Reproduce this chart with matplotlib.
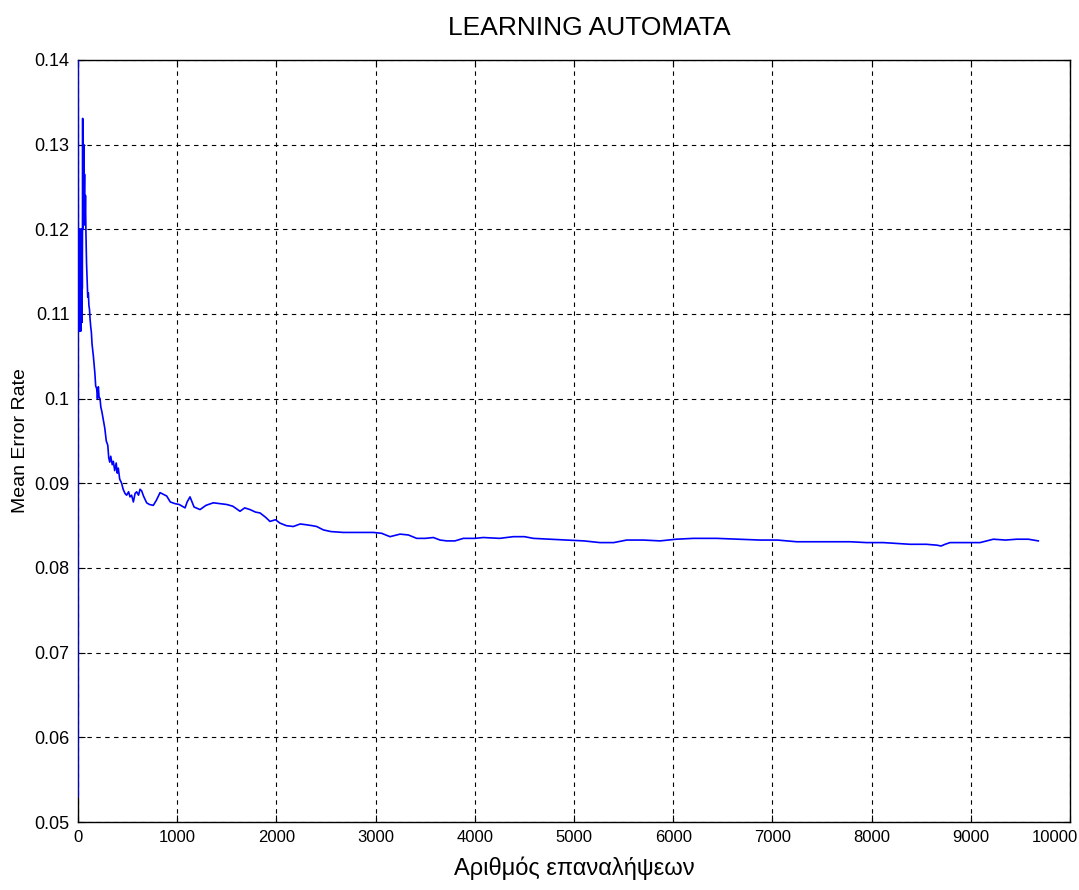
import matplotlib
matplotlib.use("Agg")
import matplotlib.pyplot as plt
import matplotlib.transforms as mtransforms
from matplotlib import font_manager

# ------------------------------------------------------------
# Data
# ------------------------------------------------------------
iterations = [0, 1, 3, 5, 7, 9, 11, 13, 15, 17, 19, 21, 23, 25, 27, 29, 31, 33,
              35, 37, 39, 41, 43, 45, 47, 49, 52, 55, 58, 62, 66, 70, 75, 80, 86,
              92, 98, 104, 110, 116, 121, 128, 135, 141, 148, 155, 162, 170, 178,
              188, 196, 205, 212, 222, 230, 240, 255, 270, 285, 300, 310, 320,
              330, 345, 356, 370, 385, 395, 406, 420, 440, 455, 474, 490, 510,
              524, 540, 558, 575, 591, 610, 625, 642, 660, 692, 720, 759, 790,
              827, 860, 894, 930, 978, 1020, 1079, 1100, 1129, 1170, 1230, 1290,
              1364, 1430, 1499, 1560, 1633, 1680, 1734, 1790, 1835, 1890, 1935,
              1990, 2036, 2100, 2170, 2240, 2305, 2360, 2406, 2473, 2550, 2675,
              2800, 2977, 3060, 3145, 3246, 3330, 3414, 3500, 3582, 3650, 3717,
              3800, 3884, 4000, 4086, 4250, 4388, 4500, 4590, 4750, 4926, 5100,
              5262, 5400, 5531, 5700, 5867, 6030, 6203, 6438, 6650, 6875, 7050,
              7245, 7500, 7782, 7950, 8118, 8387, 8550, 8656, 8700, 8740, 8790,
              8950, 9093, 9227, 9350, 9462, 9580, 9680]

mean_error = [0.053, 0.150, 0.108, 0.120, 0.108, 0.120, 0.109, 0.120, 0.108,
              0.120, 0.110, 0.120, 0.108, 0.119, 0.109, 0.120, 0.108, 0.120,
              0.111, 0.120, 0.109, 0.118, 0.113, 0.120, 0.1331, 0.120, 0.1312,
              0.1225, 0.1300, 0.1235, 0.1265, 0.1205, 0.1240, 0.1195, 0.1160,
              0.1140, 0.1120, 0.1125, 0.1110, 0.1105, 0.1095, 0.1085, 0.1078,
              0.1065, 0.1058, 0.1050, 0.1040, 0.1030, 0.1015, 0.1012, 0.1000,
              0.1014, 0.1002, 0.1000, 0.0990, 0.0985, 0.0975, 0.0965, 0.0950,
              0.0945, 0.0930, 0.0925, 0.0932, 0.0922, 0.0926, 0.0915, 0.0924,
              0.0912, 0.0918, 0.0905, 0.0900, 0.0893, 0.0888, 0.0886, 0.0890,
              0.0884, 0.0886, 0.0878, 0.0888, 0.0890, 0.0886, 0.0893, 0.0891,
              0.0885, 0.0877, 0.0875, 0.0874, 0.0880, 0.0889, 0.0887, 0.0885,
              0.0878, 0.0876, 0.0875, 0.0871, 0.0878, 0.0884, 0.0872, 0.0869,
              0.0874, 0.0877, 0.0876, 0.0875, 0.0873, 0.0867, 0.0871, 0.0869,
              0.0866, 0.0865, 0.0860, 0.0855, 0.0857, 0.0853, 0.0850, 0.0849,
              0.0852, 0.0851, 0.0850, 0.0849, 0.0845, 0.0843, 0.0842, 0.0842,
              0.0842, 0.0841, 0.0837, 0.0840, 0.0839, 0.0835, 0.0835, 0.0836,
              0.0833, 0.0832, 0.0832, 0.0835, 0.0835, 0.0836, 0.0835, 0.0837,
              0.0837, 0.0835, 0.0834, 0.0833, 0.0832, 0.0830, 0.0830, 0.0833,
              0.0833, 0.0832, 0.0834, 0.0835, 0.0835, 0.0834, 0.0833, 0.0833,
              0.0831, 0.0831, 0.0831, 0.0830, 0.0830, 0.0828, 0.0828, 0.0827,
              0.0826, 0.0828, 0.0830, 0.0830, 0.0830, 0.0834, 0.0833, 0.0834,
              0.0834, 0.0832]

x_ticks = [0, 1000, 2000, 3000, 4000, 5000, 6000, 7000, 8000, 9000, 10000]
y_ticks = [0.05, 0.06, 0.07, 0.08, 0.09, 0.1, 0.11, 0.12, 0.13, 0.14]
y_tick_labels = ['0.05', '0.06', '0.07', '0.08', '0.09', '0.1', '0.11',
                 '0.12', '0.13', '0.14']

# narrow font for the squeezed x labels, if present
installed = {f.name for f in font_manager.fontManager.ttflist}
narrow = 'Liberation Sans Narrow' if 'Liberation Sans Narrow' in installed else 'Liberation Sans'

plt.rcParams['font.family'] = ['Liberation Sans', 'DejaVu Sans']

# ------------------------------------------------------------
# Plot
# ------------------------------------------------------------
fig = plt.figure(figsize=(10.79, 8.90), dpi=100)
ax = fig.add_axes([0.0723, 0.0764, 0.9194, 0.8562])

ax.plot(iterations, mean_error, color='#0000ff', linewidth=1.2, zorder=3)

ax.set_xlim(0, 10000)
ax.set_ylim(0.05, 0.14)
ax.set_xticks(x_ticks)
ax.set_yticks(y_ticks)
ax.set_yticklabels(y_tick_labels)
ax.grid(True, color='black', linestyle=(0, (4, 4)), linewidth=0.8)

ax.tick_params(direction='in', top=True, right=True, length=5, width=0.8,
               labelsize=13, pad=6)
ax.tick_params(axis='x', labelsize=12)
xlabels = ax.get_xticklabels()
for lbl in xlabels:
    lbl.set_family([narrow, 'DejaVu Sans'])
# keep the last label inside the figure
xlabels[-1].set_horizontalalignment('right')
xlabels[-1].set_transform(xlabels[-1].get_transform() +
                          mtransforms.ScaledTranslation(8 / 100, 0, fig.dpi_scale_trans))

for sp in ax.spines.values():
    sp.set_linewidth(1.0)
    sp.set_color('black')

ax.set_title('LEARNING AUTOMATA', fontsize=19, pad=18, x=0.515)
ax.set_ylabel('Mean Error Rate', fontsize=14, labelpad=4)
ax.set_xlabel('Αριθμός επαναλήψεων', fontsize=17, labelpad=8,
              family=[narrow, 'DejaVu Sans'])

plt.savefig('out.png', dpi=100)
plt.close()
